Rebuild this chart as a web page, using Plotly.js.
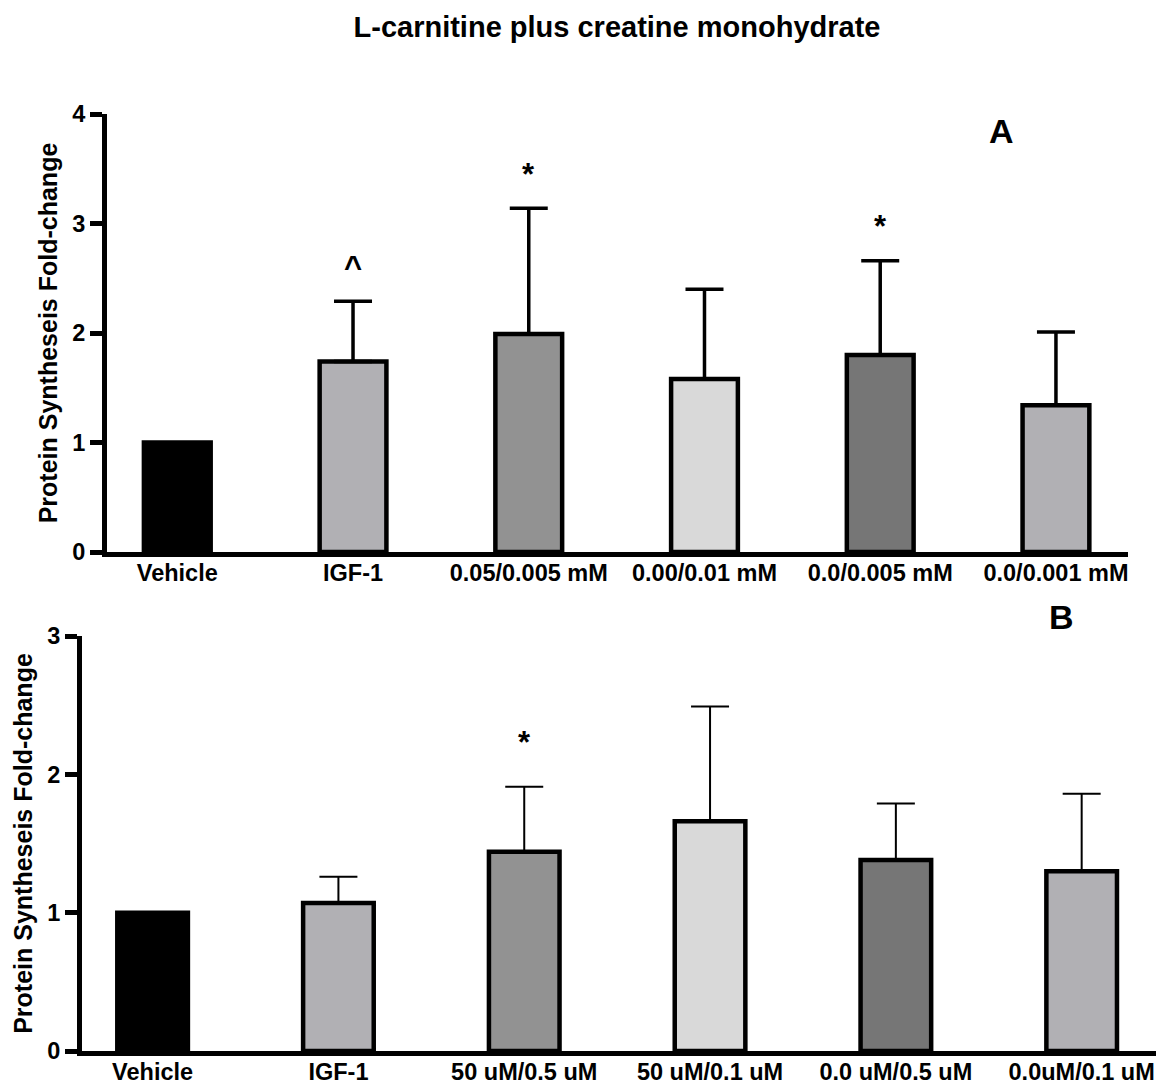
<!DOCTYPE html>
<html>
<head>
<meta charset="utf-8">
<script src="https://cdn.plot.ly/plotly-3.0.1.min.js"></script>
<style>html,body{margin:0;padding:0;background:#fff;}#chart{width:1156px;height:1086px;}</style>
</head>
<body>
<div id="chart"></div>
<script>
// ---- data ----
const chartTitle = 'L-carnitine plus creatine monohydrate';
const yTitle = 'Protein Syntheseis Fold-change';

const categoriesA = ['Vehicle', 'IGF-1', '0.05/0.005 mM', '0.00/0.01 mM', '0.0/0.005 mM', '0.0/0.001 mM'];
const valuesA = [1.00, 1.74, 1.99, 1.58, 1.80, 1.34];
const errorsA = [NaN, 0.55, 1.15, 0.82, 0.86, 0.67];
const marksA = ['', '^', '*', '', '*', ''];

const categoriesB = ['Vehicle', 'IGF-1', '50 uM/0.5 uM', '50 uM/0.1 uM', '0.0 uM/0.5 uM', '0.0uM/0.1 uM'];
const valuesB = [1.00, 1.07, 1.44, 1.66, 1.38, 1.30];
const errorsB = [NaN, 0.19, 0.47, 0.83, 0.41, 0.56];
const marksB = ['', '', '*', '', '', ''];

const colorsA = ['#000000', '#b1b0b4', '#929292', '#d9d9d9', '#767676', '#b1b0b4'];
const colorsB = ['#000000', '#b1b0b4', '#929292', '#d9d9d9', '#767676', '#b1b0b4'];

// ---- build ----
const FONT = 'Liberation Sans, Arial, Helvetica, sans-serif';
const W = 1156, H = 1086;
const px = v => v / W;
const py = v => 1 - v / H;

function barTrace(cats, vals, errs, colors, xa, ya, errThick) {
  return {
    type: 'bar', x: cats, y: vals, xaxis: xa, yaxis: ya, width: 0.38,
    marker: {color: colors, line: {color: '#000', width: 4.5}},
    error_y: {type: 'data', symmetric: false, array: errs,
              arrayminus: errs.map(e => isNaN(e) ? NaN : 0),
              color: '#000', thickness: errThick, width: 19},
    hoverinfo: 'x+y', showlegend: false
  };
}

const data = [
  barTrace(categoriesA, valuesA, errorsA, colorsA, 'x', 'y', 3.5),
  barTrace(categoriesB, valuesB, errorsB, colorsB, 'x2', 'y2', 2)
];

const annotations = [];
function addMarks(cats, vals, errs, marks, xr, yr, off) {
  marks.forEach((m, i) => {
    if (!m) return;
    annotations.push({x: cats[i], y: vals[i] + errs[i] + off, xref: xr, yref: yr,
      text: m, showarrow: false, xanchor: 'center', yanchor: 'middle',
      font: {family: FONT, size: 31, color: '#000', weight: 700}});
  });
}
addMarks(categoriesA, valuesA, errorsA, marksA, 'x', 'y', 0.31);
addMarks(categoriesB, valuesB, errorsB, marksB, 'x2', 'y2', 0.32);

annotations.push({x: px(1001), y: py(131), xref: 'paper', yref: 'paper', text: 'A', showarrow: false,
  xanchor: 'center', yanchor: 'middle', font: {family: FONT, size: 34, color: '#000', weight: 700}});
annotations.push({x: px(1061), y: py(617), xref: 'paper', yref: 'paper', text: 'B', showarrow: false,
  xanchor: 'center', yanchor: 'middle', font: {family: FONT, size: 34, color: '#000', weight: 700}});

const tickFont = {family: FONT, size: 23.5, color: '#000', weight: 700};
const titleFont = {family: FONT, size: 25, color: '#000', weight: 700};

function xAxis(dom, range, anchor) {
  return {domain: dom, range: range, type: 'category', anchor: anchor,
    showline: true, linewidth: 5, linecolor: '#000', ticks: '', showgrid: false, zeroline: false,
    tickfont: tickFont, ticklabelstandoff: -4, automargin: false, fixedrange: true};
}
function yAxis(dom, range, tv, anchor, standoff) {
  return {domain: dom, range: range, tickvals: tv, anchor: anchor,
    showline: true, linewidth: 5, linecolor: '#000', ticks: 'outside', ticklen: 12, tickwidth: 5,
    tickcolor: '#000', showgrid: false, zeroline: false, tickfont: tickFont, automargin: false,
    title: {text: yTitle, font: titleFont, standoff: standoff}, fixedrange: true};
}

const layout = {
  width: W, height: H,
  margin: {l: 0, r: 0, t: 0, b: 0},
  paper_bgcolor: '#fff', plot_bgcolor: 'rgba(0,0,0,0)',
  font: {family: FONT, color: '#000'},
  title: {text: chartTitle, x: px(617), xanchor: 'center', y: py(27), yanchor: 'middle',
          xref: 'paper', yref: 'container', font: {family: FONT, size: 29, color: '#000', weight: 700}},
  xaxis: xAxis([px(107), px(1128)], [-0.40, 5.41], 'y'),
  yaxis: yAxis([py(552), py(114)], [0, 4], [0, 1, 2, 3, 4], 'x', 9),
  xaxis2: xAxis([px(82), 1], [-0.38, 5.40], 'y2'),
  yaxis2: yAxis([py(1051), py(636)], [0, 3], [0, 1, 2, 3], 'x2', 9),
  annotations: annotations,
  bargap: 0.6
};

Plotly.newPlot('chart', data, layout, {displayModeBar: false, staticPlot: true});
</script>
</body>
</html>
